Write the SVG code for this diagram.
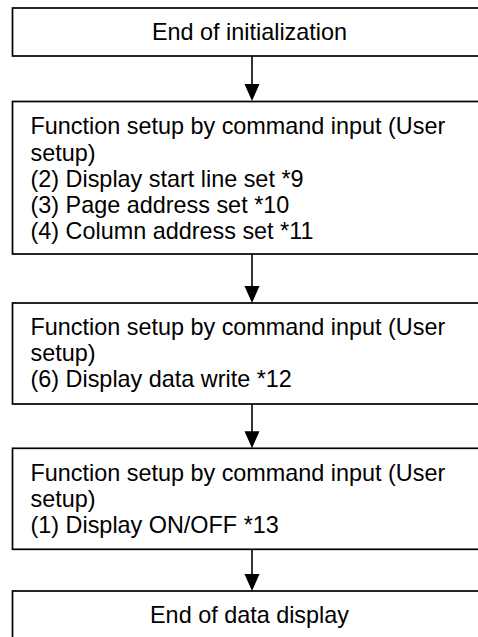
<svg xmlns="http://www.w3.org/2000/svg" width="478" height="637" viewBox="0 0 478 637">
<style>
.box{fill:#fff;stroke:#000;stroke-width:1.7}
.t{font-family:"Liberation Sans",Arial,sans-serif;font-size:23.4px;fill:#000}
.c{text-anchor:middle}
.ln{stroke:#000;stroke-width:1.6;fill:none}
.ah{fill:#000;stroke:none}
</style>
<rect width="478" height="637" fill="#fff"/>
<g id="n1">
<rect class="box" x="12.5" y="8" width="474" height="48"/>
<text class="t c" x="249.5" y="40">End of initialization</text>
</g>
<g id="n2">
<rect class="box" x="12.5" y="101.5" width="474" height="152.5"/>
<text class="t" x="30.5" y="134.4">Function setup by command input (User</text>
<text class="t" x="30.5" y="160.6">setup)</text>
<text class="t" x="30.5" y="186.8">(2) Display start line set *9</text>
<text class="t" x="30.5" y="213">(3) Page address set *10</text>
<text class="t" x="30.5" y="239.2">(4) Column address set *11</text>
</g>
<g id="n3">
<rect class="box" x="12.5" y="303" width="474" height="101"/>
<text class="t" x="30.5" y="334.6">Function setup by command input (User</text>
<text class="t" x="30.5" y="360.8">setup)</text>
<text class="t" x="30.5" y="387">(6) Display data write *12</text>
</g>
<g id="n4">
<rect class="box" x="12.5" y="448.3" width="474" height="101"/>
<text class="t" x="30.5" y="481">Function setup by command input (User</text>
<text class="t" x="30.5" y="507.2">setup)</text>
<text class="t" x="30.5" y="533.4">(1) Display ON/OFF *13</text>
</g>
<g id="n5">
<rect class="box" x="12.5" y="591" width="474" height="60"/>
<text class="t c" x="249.5" y="623.3">End of data display</text>
</g>
<g id="connectors">
<line class="ln" x1="252" y1="56" x2="252" y2="86"/>
<polygon class="ah" points="244.5,84 259.5,84 252,101"/>
<line class="ln" x1="252" y1="254" x2="252" y2="288"/>
<polygon class="ah" points="244.5,286 259.5,286 252,303"/>
<line class="ln" x1="252" y1="404" x2="252" y2="433"/>
<polygon class="ah" points="244.5,431.3 259.5,431.3 252,448.3"/>
<line class="ln" x1="252" y1="549.3" x2="252" y2="576"/>
<polygon class="ah" points="244.5,574 259.5,574 252,591"/>
</g>
</svg>
